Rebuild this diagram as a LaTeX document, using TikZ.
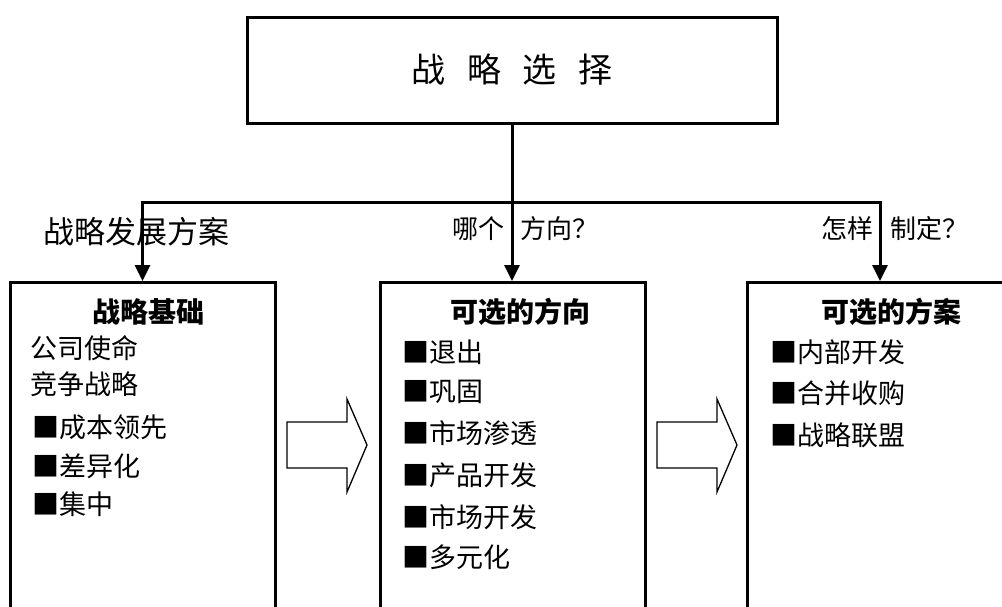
\documentclass[tikz,border=0pt]{standalone}
\usepackage{fontspec}
\setmainfont{Noto Sans CJK SC}
\usetikzlibrary{arrows.meta}
\begin{document}
\begin{tikzpicture}[x=1pt,y=-1pt,
  box/.style={draw, line width=3pt, rectangle, inner sep=0pt, minimum width=265pt},
  conn/.style={line width=3pt, -{Triangle[width=15pt,length=16pt]}},
  plain/.style={line width=3pt},
  lab/.style={inner sep=0pt, font=\fontsize{26}{26}\selectfont},
  biglab/.style={inner sep=0pt, font=\fontsize{31}{31}\selectfont},
  ttl/.style={inner sep=0pt, font=\fontsize{28}{28}\selectfont\bfseries},
  item/.style={inner sep=0pt, anchor=west, font=\fontsize{27}{27}\selectfont},
  blockarrow/.style={draw, line width=1.3pt, line join=miter}
]
\useasboundingbox (0,0) rectangle (1002,606);

% top box
\node[box, minimum width=530pt, minimum height=106pt] (top) at (512,70)
  {\fontsize{34}{34}\selectfont 战\hspace{22pt}略\hspace{22pt}选\hspace{22pt}择};

% lower boxes (open at the bottom, beyond the page)
\node[box, minimum height=360pt, anchor=north] (L) at (142.5,281) {};
\node[box, minimum height=360pt, anchor=north] (M) at (512.5,281) {};
\node[box, minimum height=360pt, anchor=north] (R) at (880,281) {};

% connector labels
\node[biglab] (l1) at (136,232) {战略发展方案};
\node[lab] (l2) at (478,229) {哪个};
\node[lab, anchor=west] (l3) at (520,229) {方向？};
\node[lab] (l4) at (847,229) {怎样};
\node[lab, anchor=west] (l5) at (890,229) {制定？};

% connectors
\coordinate (jM) at (512,202);
\draw[plain] (top.south -| jM) -- (jM);
\draw[conn] (jM) -| (L.north);
\draw[conn] (jM) -| (R.north);
\draw[conn] (jM) -- (M.north -| jM);

% titles
\node[ttl] (tL) at (148,312) {战略基础};
\node[ttl] (tM) at (520,312) {可选的方向};
\node[ttl] (tR) at (891,312) {可选的方案};

% left items
\node[item] (a1) at (30,348) {公司使命};
\node[item] (a2) at (30,384) {竞争战略};
\node[item] (a3) at (32,427) {■成本领先};
\node[item] (a4) at (32,466) {■差异化};
\node[item] (a5) at (32,504) {■集中};

% middle items
\node[item] (b1) at (402,352) {■退出};
\node[item] (b2) at (402,392) {■巩固};
\node[item] (b3) at (402,433) {■市场渗透};
\node[item] (b4) at (402,475) {■产品开发};
\node[item] (b5) at (402,517) {■市场开发};
\node[item] (b6) at (402,557) {■多元化};

% right items
\node[item] (c1) at (770,352) {■内部开发};
\node[item] (c2) at (770,393) {■合并收购};
\node[item] (c3) at (770,435) {■战略联盟};

% block arrows
\draw[blockarrow] (287,422) -- (347,422) -- (347,399) -- (367,445) -- (347,492) -- (347,468) -- (287,468) -- cycle;
\draw[blockarrow] (657,422) -- (717,422) -- (717,399) -- (737,445) -- (717,492) -- (717,468) -- (657,468) -- cycle;
\end{tikzpicture}
\end{document}
